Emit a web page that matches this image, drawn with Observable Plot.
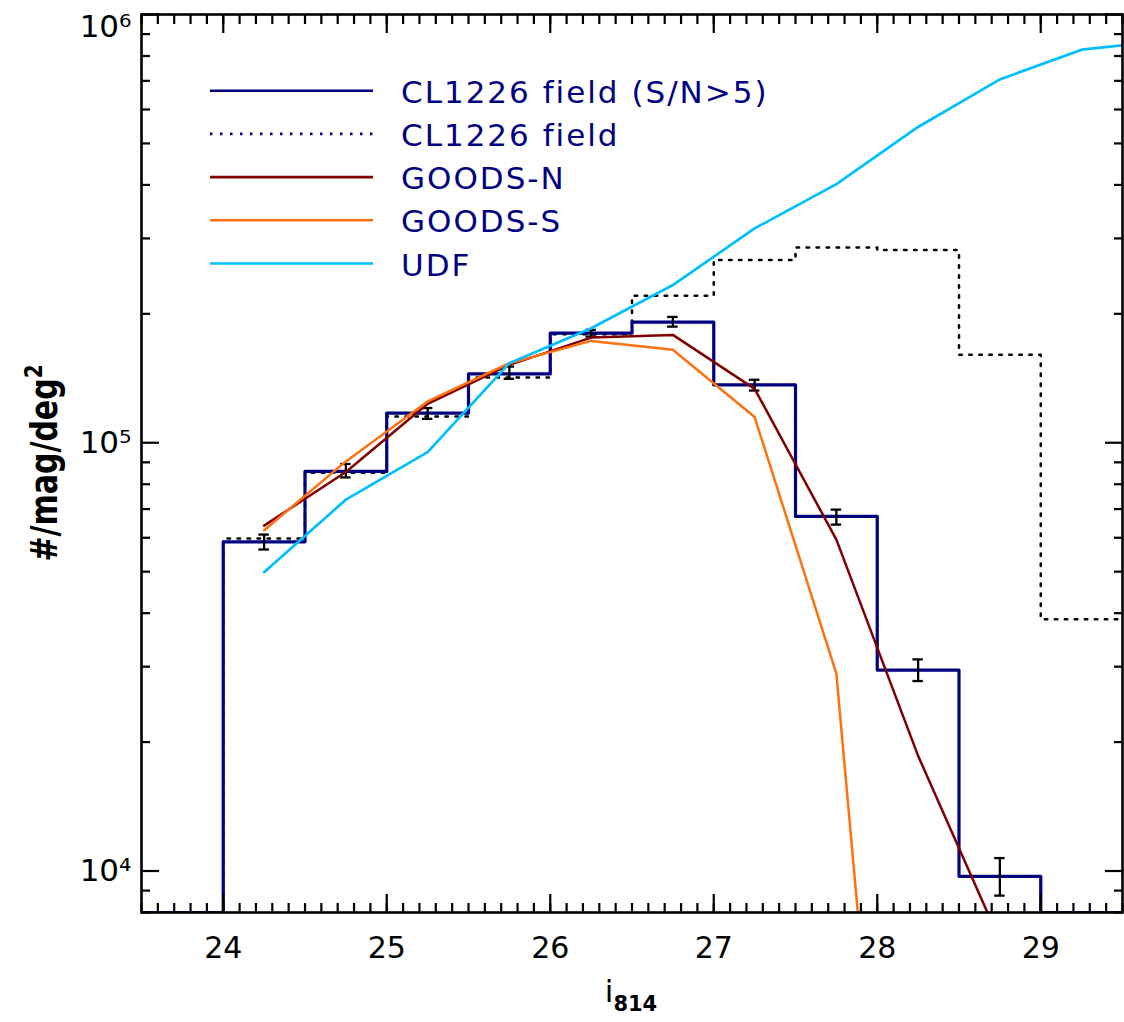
<!DOCTYPE html>
<html>
<head>
<meta charset="utf-8">
<script src="https://cdn.jsdelivr.net/npm/d3@7"></script>
<script src="https://cdn.jsdelivr.net/npm/@observablehq/plot@0.6"></script>
<style>
  html, body { margin: 0; padding: 0; background: #fff; }
  #chart { width: 1124px; height: 1022px; }
</style>
</head>
<body>
<div id="chart"></div>
<script>
// ---------------- data ----------------
const binEdges = [23.5, 24.0, 24.5, 25.0, 25.5, 26.0, 26.5, 27.0, 27.5, 28.0, 28.5, 29.0, 29.5];
// CL1226 field, S/N>5 (solid navy histogram); outer bins lie at/below the plot floor
const clSN5 = [8000, 58700, 85700, 117300, 144800, 180300, 191200, 136500, 67300, 29450, 9720, 8000];
// CL1226 field, all (dotted histogram)
const clAll = [8000, 59750, 85100, 115200, 142000, 179200, 220500, 267100, 285600, 281800, 160400, 38700];
// Error bars on the S/N>5 histogram
const errMag  = [24.25, 24.75, 25.25, 25.75, 26.25, 26.75, 27.25, 27.75, 28.25, 28.75];
const errLow  = [56330, 83000, 113700, 141000, 177000, 186700, 132400, 64400, 27770, 8760];
const errHigh = [61040, 89200, 120500, 150600, 183500, 196700, 140300, 69800, 31200, 10720];
// Comparison counts at bin centres
const modelMag = [24.25, 24.75, 25.25, 25.75, 26.25, 26.75, 27.25, 27.75, 28.25, 28.75, 29.25, 29.75];
const goodsN = [64050, 85450, 123300, 152000, 176000, 178600, 133600, 59400, 18570, 6880];
const goodsS = [62470, 90450, 124850, 153400, 172900, 164800, 114800, 28890, 215];
const udf    = [49850, 73650, 95100, 153400, 185100, 233500, 316600, 401600, 546200, 705400, 827500, 868500];

const xMajor = [24, 25, 26, 27, 28, 29];
const xMinor = d3.range(235, 296).map(d => d / 10);
const yMajor = [1e4, 1e5, 1e6];
const yMinor = [8000, 9000, 2e4, 3e4, 4e4, 5e4, 6e4, 7e4, 8e4, 9e4, 2e5, 3e5, 4e5, 5e5, 6e5, 7e5, 8e5, 9e5];
const yTickText = {10000: "10\u2074", 100000: "10\u2075", 1000000: "10\u2076"};

const legendNames  = ["CL1226 field (S/N>5)", "CL1226 field", "GOODS-N", "GOODS-S", "UDF"];
const legendColors = ["#000080", "#000080", "#800000", "#ff7010", "#00bfff"];
const legendDash   = [null, "2.5,7.5", null, null, null];

// ---------------- tables ----------------
const stepTable = vals => binEdges.map((x, i) => ({x, y: vals[Math.min(i, vals.length - 1)]}));
const seriesTable = vals => vals.map((y, i) => ({x: modelMag[i], y}));
const errTable = errMag.map((x, i) => ({x, lo: errLow[i], hi: errHigh[i]}));

const FONT = "DejaVu Sans";
const capHalf = 0.032;

const tickAxis = (axis, anchor, ticks, size) =>
  axis({anchor, ticks, tickSize: -size, fill: "none", stroke: "black", strokeWidth: 2.2, label: null});

const plot = Plot.plot({
  width: 1124,
  height: 1022,
  marginLeft: 141,
  marginRight: 2,
  marginTop: 14,
  marginBottom: 110,
  style: {fontFamily: FONT, background: "white", color: "black", overflow: "visible"},
  x: {domain: [23.5, 29.5], label: null},
  y: {type: "log", domain: [8000, 1e6], label: null},
  marks: [
    Plot.line(stepTable(clAll), {x: "x", y: "y", curve: "step-after", stroke: "black", strokeWidth: 2.5, strokeDasharray: "2.5,7.5", clip: true}),
    Plot.line(stepTable(clSN5), {x: "x", y: "y", curve: "step-after", stroke: "#000080", strokeWidth: 3.2, clip: true}),
    Plot.ruleX(errTable, {x: "x", y1: "lo", y2: "hi", stroke: "black", strokeWidth: 2.3}),
    Plot.ruleY(errTable, {x1: d => d.x - capHalf, x2: d => d.x + capHalf, y: "lo", stroke: "black", strokeWidth: 2.3}),
    Plot.ruleY(errTable, {x1: d => d.x - capHalf, x2: d => d.x + capHalf, y: "hi", stroke: "black", strokeWidth: 2.3}),
    Plot.line(seriesTable(goodsN), {x: "x", y: "y", stroke: "#800000", strokeWidth: 2.5, clip: true}),
    Plot.line(seriesTable(goodsS), {x: "x", y: "y", stroke: "#ff7010", strokeWidth: 2.5, clip: true}),
    Plot.line(seriesTable(udf), {x: "x", y: "y", stroke: "#00bfff", strokeWidth: 2.7, clip: true}),
    Plot.frame({stroke: "black", strokeWidth: 2.6}),
    // inward ticks on all four sides
    tickAxis(Plot.axisX, "bottom", xMinor, 9),
    tickAxis(Plot.axisX, "bottom", xMajor, 18),
    tickAxis(Plot.axisX, "top", xMinor, 9),
    tickAxis(Plot.axisX, "top", xMajor, 18),
    tickAxis(Plot.axisY, "left", yMinor, 9),
    tickAxis(Plot.axisY, "left", yMajor, 18),
    tickAxis(Plot.axisY, "right", yMinor, 9),
    tickAxis(Plot.axisY, "right", yMajor, 18),
    // tick labels
    Plot.axisX({anchor: "bottom", ticks: xMajor, tickSize: 0, tickPadding: 24, fontSize: 30, tickFormat: d => String(d), fill: "black", label: null}),
    Plot.axisY({anchor: "left", ticks: [1e4, 1e5], tickSize: 0, tickPadding: 10, fontSize: 31, tickFormat: d => yTickText[d], fill: "black", label: null}),
    Plot.axisY({anchor: "left", ticks: [1e6], tickSize: 0, tickPadding: 10, dy: 13, fontSize: 31, tickFormat: d => yTickText[d], fill: "black", label: null})
  ]
});

document.getElementById("chart").appendChild(plot);

// ---------------- legend and axis titles ----------------
const svg = d3.select(plot);
const lg = svg.append("g").attr("class", "legend").attr("text-anchor", "start");
legendNames.forEach((name, i) => {
  const y = 90.7 + 43.2 * i;
  const ln = lg.append("line")
    .attr("x1", 210).attr("x2", 373).attr("y1", y).attr("y2", y)
    .attr("stroke", legendColors[i]).attr("stroke-width", 2.6);
  if (legendDash[i]) ln.attr("stroke-dasharray", legendDash[i]);
  lg.append("text")
    .attr("x", 401).attr("y", y + 12)
    .attr("text-anchor", "start")
    .attr("font-family", FONT).attr("font-size", 31).attr("letter-spacing", "2px")
    .attr("fill", "#000080")
    .text(name);
});

// x title: i with subscript 814
const xt = svg.append("text")
  .attr("x", 631).attr("y", 1002)
  .attr("text-anchor", "middle")
  .attr("font-family", FONT).attr("fill", "black");
xt.append("tspan").attr("font-size", 31).text("i");
xt.append("tspan").attr("font-size", 21).attr("font-weight", "bold").attr("dy", 9).text("814");

// y title
const yt = svg.append("text")
  .attr("transform", "translate(57,463) rotate(-90) scale(1,1.25)")
  .attr("text-anchor", "middle")
  .attr("font-family", FONT).attr("font-weight", "bold").attr("font-size", 30).attr("fill", "black");
yt.append("tspan").text("#/mag/deg");
yt.append("tspan").attr("font-size", 20).attr("dy", -12).text("2");
</script>
</body>
</html>
